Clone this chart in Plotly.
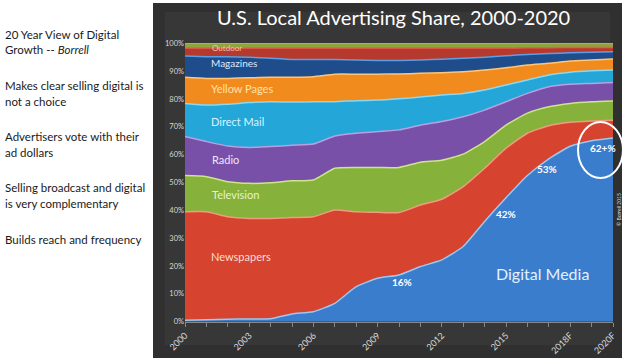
import plotly.graph_objects as go

W, H = 627, 360

years = ["2000", "2001", "2002", "2003", "2004", "2005", "2006", "2007", "2008",
         "2009", "2010", "2011", "2012", "2013", "2014", "2015",
         "2016F", "2017F", "2018F", "2019F", "2020F"]
tick_labels = {"2000": "2000", "2003": "2003", "2006": "2006", "2009": "2009",
               "2012": "2012", "2015": "2015", "2018F": "2018F", "2020F": "2020F"}

digital = [0.5, 0.7, 0.9, 1.0, 1.1, 2.8, 3.6, 6.6, 12.6, 15.6, 16.8, 19.8, 22.2,
           27.0, 36.0, 44.5, 52.5, 58.5, 63.0, 65.0, 66.0]
newspapers = [39.0, 38.8, 36.8, 36.1, 36.0, 34.6, 34.1, 33.5, 26.9, 23.7, 22.4,
              22.1, 21.8, 21.5, 19.1, 17.8, 15.2, 11.9, 8.6, 7.1, 6.4]
television = [13.0, 12.6, 12.6, 12.6, 12.8, 13.2, 13.2, 15.0, 15.9, 16.1, 16.2,
              15.4, 14.0, 11.7, 9.6, 8.3, 7.2, 6.8, 6.8, 6.9, 6.9]
radio = [14.0, 12.6, 12.8, 12.9, 13.0, 12.8, 12.9, 11.6, 12.3, 12.9, 13.5,
         13.3, 13.9, 13.4, 11.3, 8.4, 7.1, 7.2, 6.9, 6.6, 6.6]
direct_mail = [11.9, 13.1, 15.0, 16.1, 16.1, 15.5, 15.2, 12.3, 11.7, 11.3, 11.2,
               10.1, 9.5, 8.4, 7.2, 6.0, 4.8, 4.2, 4.3, 4.5, 4.5]
yellow_pages = [9.4, 9.6, 9.3, 8.9, 8.8, 8.9, 9.0, 9.9, 9.5, 9.3, 8.9,
                8.5, 8.0, 7.8, 7.2, 6.2, 5.4, 4.2, 4.0, 3.9, 4.0]
magazines = [7.6, 7.8, 7.8, 7.4, 6.8, 6.4, 6.2, 5.3, 5.1, 4.9, 4.8,
             4.8, 4.9, 4.8, 4.6, 4.3, 3.8, 3.5, 3.0, 2.8, 2.6]
outdoor = [2.9, 3.1, 3.1, 3.3, 3.7, 4.1, 4.1, 4.1, 4.3, 4.5, 4.5,
           4.3, 4.0, 3.7, 3.3, 2.8, 2.4, 2.1, 1.9, 1.7, 1.5]
other = [1.7, 1.7, 1.7, 1.7, 1.7, 1.7, 1.7, 1.7, 1.7, 1.7, 1.7,
         1.7, 1.7, 1.7, 1.7, 1.7, 1.6, 1.6, 1.5, 1.5, 1.5]

series = [
    ("Digital Media", digital, "#3a7dcc", "#9cc8f2"),
    ("Newspapers", newspapers, "#d6442f", "#f39a80"),
    ("Television", television, "#86b23b", "#cce58a"),
    ("Radio", radio, "#7850a8", "#b8a0e2"),
    ("Direct Mail", direct_mail, "#25a6d8", "#86daf6"),
    ("Yellow Pages", yellow_pages, "#f28b1e", "#ffc678"),
    ("Magazines", magazines, "#1f4d8c", "#5e9ee4"),
    ("Outdoor", outdoor, "#b53a2d", "#e2604e"),
    ("Other", other, "#8ea43c", "#b9d060"),
]

fig = go.Figure()
for name, vals, fc, lc in series:
    fig.add_trace(go.Scatter(
        x=years, y=vals, name=name, stackgroup="one", mode="lines",
        line=dict(color=lc, width=1.5, shape="spline", smoothing=0.5),
        fillcolor=fc, showlegend=False, hoverinfo="x+y+name"))


def px(x):
    return x / W


def py(y):
    return (H - y) / H


shapes = [
    dict(type="rect", xref="paper", yref="paper", x0=px(153), x1=px(622),
         y0=py(358), y1=py(3), fillcolor="#303030", line=dict(width=0), layer="below"),
    dict(type="rect", xref="paper", yref="paper", x0=px(165), x1=px(610),
         y0=py(345), y1=py(12), fillcolor="rgba(70,70,70,0.35)", line=dict(width=0),
         layer="below"),
    dict(type="circle", xref="paper", yref="paper", x0=px(578), x1=px(623),
         y0=py(178), y1=py(122), line=dict(color="white", width=2)),
]

ann = []
left_lines = [
    ("20 Year View of Digital", 34),
    ("Growth -- <i>Borrell</i>", 50),
    ("Makes clear selling digital is", 85),
    ("not a choice", 101),
    ("Advertisers vote with their", 136),
    ("ad dollars", 152),
    ("Selling broadcast and digital", 188),
    ("is very complementary", 203),
    ("Builds reach and frequency", 239),
]
for t, y in left_lines:
    ann.append(dict(text=t, x=px(3), y=py(y), xref="paper", yref="paper",
                    xanchor="left", yanchor="middle", showarrow=False,
                    font=dict(family="Lato", size=11.5, color="#1a1a1a")))

ann.append(dict(text="U.S. Local Advertising Share, 2000-2020", x=px(393), y=py(17),
                xref="paper", yref="paper", xanchor="center", yanchor="middle",
                showarrow=False, font=dict(family="Lato", size=20, color="white")))

layer_labels = [
    ("Outdoor", 210, 48, 8, "#f2c4b8"),
    ("Magazines", 209, 63, 10, "#dce9ff"),
    ("Yellow Pages", 209, 88, 11, "#ffe2a8"),
    ("Direct Mail", 209, 121, 11, "#d8f4ff"),
    ("Radio", 210, 159, 11, "#f0e4ff"),
    ("Television", 210, 194, 11, "#e6f4c8"),
    ("Newspapers", 209, 256, 11, "#ffdcd0"),
]
for t, x, y, s, c in layer_labels:
    ann.append(dict(text=t, x=px(x), y=py(y), xref="paper", yref="paper",
                    xanchor="left", yanchor="middle", showarrow=False,
                    font=dict(family="Lato", size=s, color=c)))

ann.append(dict(text="Digital Media", x=px(542), y=py(273), xref="paper", yref="paper",
                xanchor="center", yanchor="middle", showarrow=False,
                font=dict(family="Lato", size=16, color="#e4f0ff")))
for t, x, y in [("16%", 402, 282), ("42%", 506, 214), ("53%", 547, 169), ("62+%", 603, 148)]:
    ann.append(dict(text="<b>" + t + "</b>", x=px(x), y=py(y), xref="paper", yref="paper",
                    xanchor="center", yanchor="middle", showarrow=False,
                    font=dict(family="Lato", size=10, color="white")))
ann.append(dict(text="© Borrell 2015", x=px(619), y=py(210), xref="paper", yref="paper",
                xanchor="center", yanchor="middle", showarrow=False, textangle=-90,
                font=dict(family="Lato", size=5, color="#dddddd")))

fig.update_layout(
    width=W, height=H,
    margin=dict(l=0, r=0, t=0, b=0),
    paper_bgcolor="white",
    plot_bgcolor="rgba(0,0,0,0)",
    shapes=shapes,
    annotations=ann,
    showlegend=False,
    xaxis=dict(
        domain=[px(185), px(613)], type="category", range=[0, 20],
        tickmode="array", tickvals=years,
        ticktext=[tick_labels.get(y, "") for y in years],
        tickangle=-45, ticks="outside", ticklen=4, tickcolor="#888888",
        tickfont=dict(family="Lato", size=9, color="#d8d8d8"),
        showline=True, linecolor="#888888", linewidth=1,
        showgrid=False, zeroline=False, automargin=False),
    yaxis=dict(
        domain=[1 - 321.7 / H, 1 - 43.3 / H], range=[0, 100],
        tickmode="array", tickvals=list(range(0, 101, 10)),
        ticktext=[f"{v}%" for v in range(0, 101, 10)],
        tickfont=dict(family="Lato", size=7.5, color="#d8d8d8"),
        ticks="", showgrid=False, zeroline=False, showline=False, automargin=False),
)

fig.write_html("out.html", config={"displayModeBar": False},
               post_script="document.body.style.margin='0';document.body.style.overflow='hidden';")
